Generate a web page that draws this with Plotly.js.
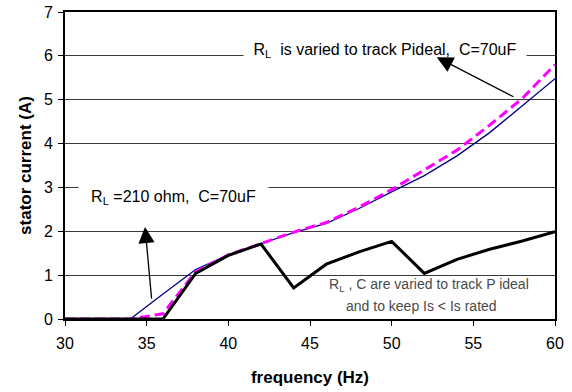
<!DOCTYPE html>
<html>
<head>
<meta charset="utf-8">
<script src="https://cdn.plot.ly/plotly-3.0.1.min.js"></script>
<style>
html,body{margin:0;padding:0;background:#fff;}
#chart{width:572px;height:392px;}
</style>
</head>
<body>
<div id="chart"></div>
<script>
// Frequency (Hz)
var freq = [30, 32, 34, 36, 38, 40, 42, 44, 46, 48, 50, 52, 54, 56, 58, 60];
// R_L = 210 ohm, C = 70uF (thin navy line)
var currentFixedRL = [0, 0, 0, 0.57, 1.13, 1.46, 1.72, 1.97, 2.18, 2.52, 2.9, 3.27, 3.72, 4.25, 4.86, 5.48];
// R_L varied to track Pideal, C = 70uF (magenta dashed)
var currentTrackP = [0, 0, 0, 0.12, 1.08, 1.46, 1.72, 1.98, 2.2, 2.55, 2.95, 3.4, 3.85, 4.42, 5.03, 5.8];
// R_L, C varied to track Pideal and keep Is < Is rated (thick black)
var currentLimited = [0, 0, 0, 0, 1.04, 1.45, 1.71, 0.71, 1.25, 1.53, 1.77, 1.04, 1.36, 1.59, 1.78, 1.99];

var xTicks = [30, 35, 40, 45, 50, 55, 60];
var yTicks = [0, 1, 2, 3, 4, 5, 6, 7];

var FONT = 'Liberation Sans, Arial, sans-serif';

var traces = [
  {x: freq, y: currentFixedRL, type: 'scatter', mode: 'lines',
   line: {color: '#000080', width: 1.3}, hoverinfo: 'skip'},
  {x: freq, y: currentTrackP, type: 'scatter', mode: 'lines',
   line: {color: '#FF00FF', width: 3, dash: '10px,5px'}, hoverinfo: 'skip'},
  {x: freq, y: currentLimited, type: 'scatter', mode: 'lines',
   line: {color: '#000000', width: 3}, hoverinfo: 'skip'}
];

var layout = {
  width: 572, height: 392,
  margin: {l: 65, r: 17, t: 12, b: 73},
  paper_bgcolor: '#ffffff', plot_bgcolor: '#ffffff',
  showlegend: false,
  font: {family: FONT, color: '#000', size: 16},
  xaxis: {
    range: [30, 60], tickvals: xTicks, ticktext: xTicks.map(String),
    ticks: 'outside', ticklen: 5, tickcolor: '#000', tickwidth: 1,
    ticklabelstandoff: 4,
    showgrid: false, zeroline: false,
    showline: true, linecolor: '#000', linewidth: 2, mirror: true,
    tickfont: {family: FONT, size: 16, color: '#000'},
    title: {text: 'frequency (Hz)', font: {family: FONT, size: 17, weight: 'bold', color: '#000'}, standoff: 20}
  },
  yaxis: {
    range: [0, 7], tickvals: yTicks, ticktext: yTicks.map(String),
    ticks: 'outside', ticklen: 5, tickcolor: '#000', tickwidth: 1,
    ticklabelstandoff: 2,
    showgrid: true, gridcolor: '#3a3a3a', gridwidth: 1, zeroline: false,
    showline: true, linecolor: '#000', linewidth: 2, mirror: true,
    tickfont: {family: FONT, size: 16, color: '#000'},
    title: {text: 'stator current (A)', font: {family: FONT, size: 17, weight: 'bold', color: '#000'}, standoff: 8}
  },
  annotations: [
    {x: 49.6, y: 6.13, xref: 'x', yref: 'y', showarrow: false,
     text: 'R<sub>L</sub>  is varied to track Pideal,  C=70uF',
     font: {family: FONT, size: 16, color: '#000'},
     bgcolor: '#ffffff', width: 280, borderpad: 1, xanchor: 'center', yanchor: 'middle'},
    {x: 36.64, y: 2.78, xref: 'x', yref: 'y', showarrow: false,
     text: 'R<sub>L</sub> =210 ohm,  C=70uF',
     font: {family: FONT, size: 16, color: '#000'},
     bgcolor: '#ffffff', width: 185, borderpad: 2, xanchor: 'center', yanchor: 'middle'},
    {x: 52.29, y: 0.77, xref: 'x', yref: 'y', showarrow: false,
     text: 'R<sub>L</sub> , C are varied to track P ideal',
     font: {family: FONT, size: 14, color: '#4a4a4a'}, xanchor: 'center', yanchor: 'middle'},
    {x: 51.84, y: 0.3, xref: 'x', yref: 'y', showarrow: false,
     text: 'and to keep Is &lt; Is rated',
     font: {family: FONT, size: 14, color: '#4a4a4a'}, xanchor: 'center', yanchor: 'middle'},
    {x: 52.76, y: 5.97, xref: 'x', yref: 'y', ax: 57.55, ay: 5.05, axref: 'x', ayref: 'y',
     text: '', showarrow: true, arrowhead: 2, arrowsize: 2.5, arrowwidth: 1.3, arrowcolor: '#000'},
    {x: 34.9, y: 2.1, xref: 'x', yref: 'y', ax: 35.31, ay: 0.43, axref: 'x', ayref: 'y',
     text: '', showarrow: true, arrowhead: 2, arrowsize: 2.5, arrowwidth: 1.3, arrowcolor: '#000'}
  ]
};

Plotly.newPlot('chart', traces, layout, {staticPlot: true, displayModeBar: false});
</script>
</body>
</html>
